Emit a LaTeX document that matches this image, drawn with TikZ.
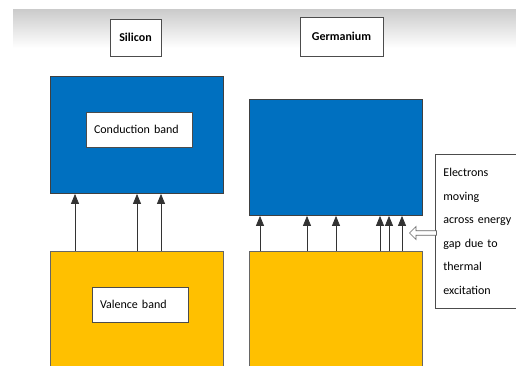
\documentclass[tikz,border=0pt]{standalone}
\usepackage{fontspec}
\setmainfont{Carlito}
\usetikzlibrary{arrows.meta,shapes.arrows}

\definecolor{bandblue}{HTML}{0070C0}
\definecolor{bandyellow}{HTML}{FFC000}

\begin{document}
\begin{tikzpicture}[x=1pt,y=-1pt,
    cband/.style={draw=black!75,line width=0.9pt,fill=bandblue,anchor=north west,inner sep=0pt},
    vband/.style={draw=black!60,line width=0.9pt,fill=bandyellow,anchor=north west,inner sep=0pt},
    label/.style={draw=black!70,line width=0.8pt,fill=white,font=\fontsize{12}{14}\selectfont,
      minimum height=35,text depth=0pt,align=left},
    title/.style={draw=black!70,line width=0.8pt,fill=white,font=\fontsize{12}{14}\selectfont\bfseries},
    up/.style={draw=black!80,line width=0.7pt,-{Triangle[width=8pt,length=10pt]}}]
  \useasboundingbox (0,0) rectangle (516,366);
  % shadow strip at the top
  \shade[top color=gray!40,bottom color=white] (13,10) rectangle (516,48);

  % titles
  \node[title,minimum width=51,minimum height=37] (si) at (135.5,37.5) {Silicon};
  \node[title,minimum width=83,minimum height=39] (ge) at (341.5,36.5) {Germanium};

  % silicon bands
  \node[cband,minimum width=173,minimum height=117] (sicb) at (50,76) {};
  \node[vband,minimum width=173,minimum height=120] (sivb) at (50,251) {};
  \node[label,minimum width=106,text width=90] (sicl) at (139,129.5) {Conduction band};
  \node[label,minimum width=96,text width=80] (sivl) at (140,304.5) {Valence band};
  \foreach \x in {75,137,161}
    \draw[up] (sivb.north west -| \x,0) -- (sicb.south west -| \x,0);

  % germanium bands
  \node[cband,minimum width=173,minimum height=116] (gecb) at (249,99) {};
  \node[vband,minimum width=173,minimum height=120] (gevb) at (249,251) {};
  \foreach \x in {260,307,336,380,389,402}
    \draw[up] (gevb.north west -| \x,0) -- (gecb.south west -| \x,0);

  % note
  \node[draw=black!70,line width=0.8pt,fill=white,anchor=north west,minimum width=90,minimum height=154,
    inner sep=8pt,text width=74,align=left,font=\fontsize{12}{23.6}\selectfont] (note) at (435,154)
    {Electrons\\moving\\across energy\\gap due to\\thermal\\excitation};
  \node[single arrow,draw=black!60,fill=white,line width=0.7pt,shape border rotate=180,
    minimum height=27,minimum width=13,single arrow head extend=3pt,inner sep=1.2pt,anchor=tip]
    (hollow) at (409,233) {};
\end{tikzpicture}
\end{document}
